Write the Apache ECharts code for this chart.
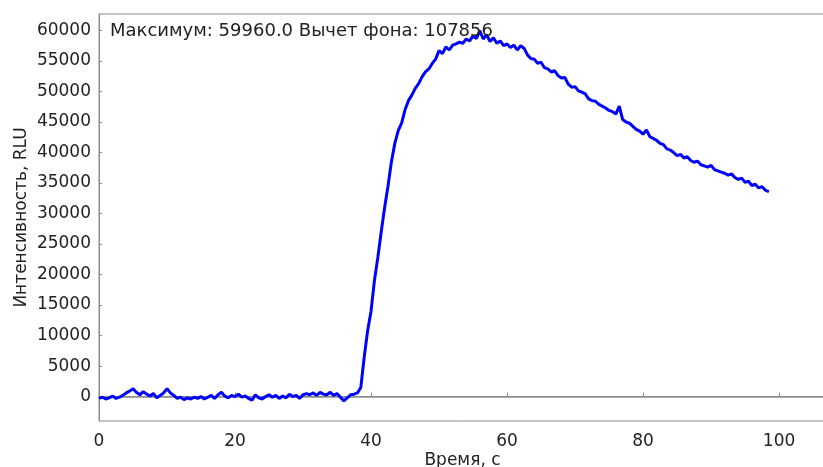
<!DOCTYPE html>
<html>
<head>
<meta charset="utf-8">
<script src="https://cdn.jsdelivr.net/npm/echarts@6/dist/echarts.min.js"></script>
<style>
  html, body { margin: 0; padding: 0; background: #fff; }
  #chart { width: 823px; height: 467px; }
</style>
</head>
<body>
<div id="chart"></div>
<script>
// sampling step of the instrument, seconds
var timeStep = 0.5;

// intensity, RLU, one value every 0.5 s from 0 s
var baseline = [
  -300, -100, -400, -200, 100, -300, -100, 200, 600, 900,
  1300, 700, 300, 800, 400, 100, 500, -200, 200, 600,
  1300, 600, 200, -300, -100, -500, -200, -400, -100, -300,
  0, -400, -100, 200, -300, 300, 700, 100, -200, 200,
  0, 400, -100, 100, -300, -600, 300, -200, -400, 0,
  300, -100, 200, -300, 100, -200, 400, 0, 200, -300,
  300, 500, 300, 600, 200, 700, 400, 300, 700, 200,
  500, -100, -700, -200, 300, 400, 600
];
var rise = [
  1500, 6500, 10800, 14000, 19000, 22800, 27000, 31000, 34500, 38500,
  41500, 43600, 44800, 47000, 48500, 49400, 50500, 51300, 52400, 53200,
  53700, 54600, 55300, 56700, 56200, 57300, 56800, 57600, 57800, 58100,
  57900, 58600, 58300, 59100, 58700, 59960
];
var decay = [
  58600, 59300, 58200, 58800, 57900, 58300, 57500, 57800, 57200, 57600,
  56800, 57500, 57100, 56000, 55400, 55300, 54600, 54800, 53900, 53700,
  53200, 53400, 52600, 52200, 52300, 51200, 50700, 50800, 50100, 49900,
  49600, 48800, 48500, 48400, 47900, 47600, 47300, 46900, 46700, 46300,
  47600, 45400, 45000, 44800, 44300, 43800, 43500, 43000, 43700, 42600,
  42300, 42000, 41500, 41300, 40600, 40400, 40000, 39500, 39700, 39100,
  39300, 38700, 38400, 38600, 38000, 37800, 37600, 37900, 37200, 37000,
  36800, 36600, 36300, 36500, 35900, 35600, 35800, 35100, 35300, 34600,
  34800, 34200, 34400, 33800, 33600
];

var xTicks = [0, 20, 40, 60, 80, 100];
var yTicks = [0, 5000, 10000, 15000, 20000, 25000, 30000, 35000, 40000, 45000, 50000, 55000, 60000];

var titleText = 'Максимум: 59960.0 Вычет фона: 107856';

var values = baseline.concat(rise, decay);
var points = values.map(function (v, i) { return [i * timeStep, v]; });

var font = 'DejaVu Sans';
var axisGray = '#8c8c8c';
var textColor = '#222';

var chart = echarts.init(document.getElementById('chart'), null, { renderer: 'canvas' });

var option = {
  animation: false,
  backgroundColor: '#fff',
  textStyle: { fontFamily: font },
  title: {
    text: titleText,
    left: 110,
    top: 22,
    padding: 0,
    textStyle: { fontFamily: font, fontSize: 18, fontWeight: 'normal', color: textColor }
  },
  grid: {
    left: 99, top: 14, right: -3, bottom: 46,
    outerBoundsMode: 'none',
    containLabel: false,
    show: true, borderColor: axisGray, borderWidth: 1, backgroundColor: 'transparent'
  },
  xAxis: {
    type: 'value',
    min: 0,
    max: 106.9,
    name: 'Время, с',
    nameLocation: 'middle',
    nameGap: 31,
    nameMoveOverlap: false,
    nameTextStyle: { fontFamily: font, fontSize: 17, color: textColor },
    axisLine: { lineStyle: { color: axisGray, width: 1 } },
    axisTick: { inside: true, length: 4, lineStyle: { color: axisGray }, customValues: xTicks },
    axisLabel: { fontFamily: font, fontSize: 17, color: textColor, margin: 12, customValues: xTicks },
    splitLine: { show: false }
  },
  yAxis: {
    type: 'value',
    min: -4000,
    max: 62700,
    name: 'Интенсивность, RLU',
    nameLocation: 'middle',
    nameGap: 69,
    nameMoveOverlap: false,
    nameTextStyle: { fontFamily: font, fontSize: 17, color: textColor },
    axisLine: { show: true, lineStyle: { color: axisGray, width: 1 } },
    axisTick: { show: true, inside: true, length: 3, lineStyle: { color: axisGray }, customValues: yTicks },
    axisLabel: {
      fontFamily: font, fontSize: 17, color: textColor, margin: 8, customValues: yTicks,
      formatter: function (v) { return String(v); }
    },
    splitLine: { show: false }
  },
  series: [{
    type: 'line',
    data: points,
    showSymbol: false,
    lineStyle: { color: '#0000ff', width: 3 },
    itemStyle: { color: '#0000ff' },
    z: 3,
    markLine: {
      silent: true,
      symbol: 'none',
      label: { show: false },
      lineStyle: { color: axisGray, width: 1.5, type: 'solid' },
      data: [{ yAxis: 0 }],
      z: 2
    }
  }]
};

chart.setOption(option);
</script>
</body>
</html>
